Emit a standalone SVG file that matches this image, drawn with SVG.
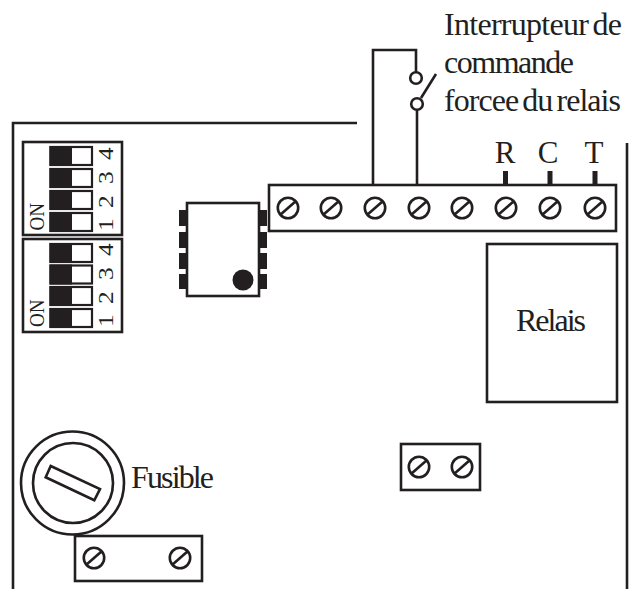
<svg xmlns="http://www.w3.org/2000/svg" width="630" height="589" viewBox="0 0 630 589">
<defs>
<style>
.l{fill:none;stroke:#231f20;stroke-width:2.6}
.b{fill:#fff;stroke:#231f20;stroke-width:2.6}
.k{fill:#231f20;stroke:none}
.t{font-family:"Liberation Serif","Times New Roman",serif;fill:#231f20}
.big{font-size:32px;word-spacing:-3px}
.sm{font-size:22px}
</style>
<g id="screw"><circle r="10.2" fill="#fff" stroke="#231f20" stroke-width="2.6"/><line x1="-8" y1="7" x2="8" y2="-7" stroke="#231f20" stroke-width="2.6"/></g>
<g id="sw"><rect x="50.5" y="0" width="41.5" height="18" fill="#fff" stroke="#231f20" stroke-width="2.2"/><rect x="49.500" y="-1" width="22.500" height="20" fill="#231f20"/></g>
</defs>
<g id="enclosure">
<path class="l" d="M13 589V123H357"/>
<path class="l" d="M627 143V589"/>
</g>
<g id="connectors">
<path class="l" d="M373 185V50H416V72"/>
<path class="l" d="M417 110V185"/>
<line class="l" x1="421" y1="98" x2="436" y2="74"/>
<path class="l" style="stroke-width:5" d="M505.500 171V185M550 171V185M595 171V185"/>
</g>
<g id="switch">
<circle class="b" cx="416" cy="78" r="5.800"/>
<circle class="b" cx="417" cy="104" r="5.800"/>
<text class="t big" x="444" y="35" textLength="178">Interrupteur de</text>
<text class="t big" x="444" y="73" textLength="130">commande</text>
<text class="t big" x="444" y="111" textLength="177">forcee du relais</text>
</g>
<g id="dip1">
<rect class="b" x="23" y="142" width="99" height="93"/>
<use href="#sw" y="147"/><use href="#sw" y="169"/><use href="#sw" y="191"/><use href="#sw" y="213"/>
<text class="t sm" transform="translate(113 160) rotate(-90) scale(1.15 1)">4</text>
<text class="t sm" transform="translate(113 184) rotate(-90) scale(1.15 1)">3</text>
<text class="t sm" transform="translate(113 208) rotate(-90) scale(1.15 1)">2</text>
<text class="t sm" transform="translate(113 231) rotate(-90) scale(1.15 1)">1</text>
<text class="t sm" transform="translate(43.500 230.500) rotate(-90) scale(.87 1)">ON</text>
</g>
<g id="dip2">
<rect class="b" x="23" y="239" width="99" height="93"/>
<use href="#sw" y="244"/><use href="#sw" y="265.500"/><use href="#sw" y="287"/><use href="#sw" y="309"/>
<text class="t sm" transform="translate(113 256) rotate(-90) scale(1.15 1)">4</text>
<text class="t sm" transform="translate(113 280) rotate(-90) scale(1.15 1)">3</text>
<text class="t sm" transform="translate(113 304) rotate(-90) scale(1.15 1)">2</text>
<text class="t sm" transform="translate(113 327) rotate(-90) scale(1.15 1)">1</text>
<text class="t sm" transform="translate(43.500 327) rotate(-90) scale(.87 1)">ON</text>
</g>
<g id="ic">
<rect class="k" x="179" y="210" width="8" height="16"/><rect class="k" x="179" y="232" width="8" height="16"/><rect class="k" x="179" y="253" width="8" height="16"/><rect class="k" x="179" y="274" width="8" height="15"/>
<rect class="k" x="259" y="210" width="8" height="16"/><rect class="k" x="259" y="232" width="8" height="16"/><rect class="k" x="259" y="253" width="8" height="16"/><rect class="k" x="259" y="274" width="8" height="15"/>
<rect class="b" x="187" y="203" width="72" height="93"/>
<circle class="k" cx="243" cy="280" r="10.500"/>
</g>
<g id="terminal-block">
<rect class="b" x="269" y="185" width="347" height="46"/>
<use href="#screw" x="288" y="208"/><use href="#screw" x="331" y="208"/><use href="#screw" x="375" y="208"/><use href="#screw" x="419" y="208"/><use href="#screw" x="462" y="208"/><use href="#screw" x="506" y="208"/><use href="#screw" x="550" y="208"/><use href="#screw" x="595" y="208"/>
<text class="t" font-size="31" text-anchor="middle" x="505" y="163">R</text>
<text class="t" font-size="31" text-anchor="middle" x="548" y="163">C</text>
<text class="t" font-size="31" text-anchor="middle" x="594" y="163">T</text>
</g>
<g id="relais">
<rect class="b" x="487" y="244" width="130" height="158"/>
<text class="t big" x="516" y="331" textLength="70">Relais</text>
</g>
<g id="terminal-mid">
<rect class="b" x="401" y="444" width="79" height="46"/>
<use href="#screw" x="419" y="467"/><use href="#screw" x="462" y="467"/>
</g>
<g id="fusible">
<circle class="b" cx="72.500" cy="483" r="51.500"/>
<circle class="b" cx="73" cy="483" r="40"/>
<path class="b" d="M50.700 466L100 489L94.300 500.300L45.700 477.300Z"/>
<text class="t big" x="131" y="488" textLength="83">Fusible</text>
</g>
<g id="terminal-bottom">
<rect class="b" x="75" y="536" width="127" height="45"/>
<use href="#screw" x="94" y="558"/><use href="#screw" x="180" y="558"/>
</g>
</svg>
